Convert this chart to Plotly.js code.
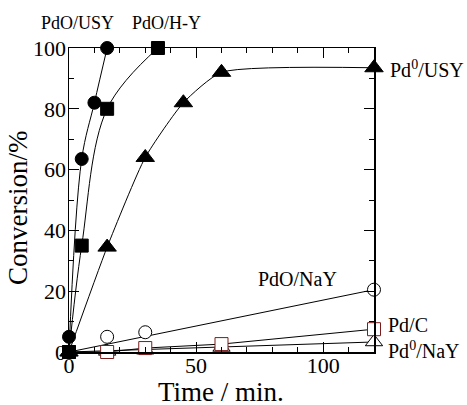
<!DOCTYPE html>
<html>
<head>
<meta charset="utf-8">
<script src="https://cdn.plot.ly/plotly-3.0.1.min.js"></script>
<style>html,body{margin:0;padding:0;background:#fff;}#chart{width:467px;height:405px;}</style>
</head>
<body>
<div id="chart"></div>
<script>
// Data (time in min, conversion in %)
const pdoUSY_x = [0, 5, 10, 15];
const pdoUSY_y = [5, 63.5, 82, 100];
const pdoUSY_curveX = [0, 5, 10, 15];
const pdoUSY_curveY = [0, 63.5, 82, 100];

const pdoHY_x = [0, 5, 15, 35];
const pdoHY_y = [0, 35, 80, 100];

const pd0USY_x = [0, 15, 30, 45, 60, 120];
const pd0USY_y = [0, 34.5, 64, 82, 92, 93.5];

const pdoNaY_x = [0, 15, 30, 120];
const pdoNaY_y = [0, 5, 6.5, 20.5];
const pdoNaY_fitX = [0, 120];
const pdoNaY_fitY = [0, 20.5];

const pdC_x = [0, 15, 30, 60, 120];
const pdC_y = [0, 0, 1.3, 2.6, 7.5];

const pd0NaY_x = [0, 15, 30, 60, 120];
const pd0NaY_y = [0, 0.2, 0.6, 1.5, 3.3];
const pd0NaY_fitX = [0, 120];
const pd0NaY_fitY = [0, 3.3];

const xTicks = [0, 50, 100];
const yTicks = [0, 20, 40, 60, 80, 100];

const xTitle = 'Time / min.';
const yTitle = 'Conversion/%';

const FONT = 'Liberation Serif';
const LW = 1;

function line(x, y, shape, smooth) {
  return {x: x, y: y, mode: 'lines', type: 'scatter', cliponaxis: false,
          line: {color: 'black', width: LW, shape: shape || 'linear', smoothing: smooth === undefined ? 1 : smooth},
          hoverinfo: 'skip', showlegend: false};
}
function pts(x, y, symbol, size, fill, edge) {
  return {x: x, y: y, mode: 'markers', type: 'scatter', cliponaxis: false, showlegend: false,
          marker: {symbol: symbol, size: size, color: fill, line: {color: edge, width: 1}}};
}

const traces = [
  line(pd0NaY_fitX, pd0NaY_fitY),
  line(pdC_x, pdC_y),
  line(pdoNaY_fitX, pdoNaY_fitY),
  pts(pd0NaY_x, pd0NaY_y, 'triangle-up', 15, 'white', 'black'),
  pts(pdC_x, pdC_y, 'square', 13, 'white', '#7a1c1c'),
  pts(pdoNaY_x, pdoNaY_y, 'circle', 13, 'white', 'black'),
  line(pd0USY_x, pd0USY_y, 'spline', 0.55),
  line(pdoHY_x, pdoHY_y, 'spline', 1),
  line(pdoUSY_curveX, pdoUSY_curveY, 'spline', 1),
  pts(pd0USY_x, pd0USY_y, 'triangle-up', 16, 'black', 'black'),
  pts(pdoHY_x, pdoHY_y, 'square', 13, 'black', 'black'),
  pts(pdoUSY_x, pdoUSY_y, 'circle', 13, 'black', 'black')
];

const tickFont = {family: FONT, size: 22, color: 'black'};
function axisBase() {
  return {
    showline: true, linecolor: 'black', linewidth: 1.5,
    ticks: 'inside', ticklen: 10, tickwidth: 1, tickcolor: 'black',
    showgrid: false, zeroline: false, tickfont: tickFont,
    minor: {ticks: 'inside', ticklen: 5, tickwidth: 1, tickcolor: 'black', showgrid: false, dtick: 10, tick0: 0}
  };
}

const layout = {
  width: 467, height: 405,
  margin: {l: 69, r: 93, t: 48, b: 53},
  paper_bgcolor: 'white', plot_bgcolor: 'white',
  font: {family: FONT, color: 'black'},
  xaxis: Object.assign(axisBase(), {
    range: [0, 120], tickmode: 'array', tickvals: xTicks, ticklabelstandoff: -7
  }),
  yaxis: Object.assign(axisBase(), {
    range: [0, 100], tickmode: 'array', tickvals: yTicks, ticklabelstandoff: -3
  }),
  xaxis2: Object.assign(axisBase(), {
    overlaying: 'x', side: 'top', range: [0, 120], tickmode: 'array', tickvals: xTicks,
    showticklabels: false
  }),
  yaxis2: Object.assign(axisBase(), {
    overlaying: 'y', side: 'right', range: [0, 100], tickmode: 'array', tickvals: yTicks,
    showticklabels: false
  }),
  annotations: [
    {x: 0.498, y: -0.132, xref: 'paper', yref: 'paper', text: xTitle, showarrow: false, xanchor: 'center', yanchor: 'middle', font: {family: FONT, size: 27, color: 'black'}},
    {x: -0.167, y: 0.474, xref: 'paper', yref: 'paper', text: yTitle, textangle: -90, showarrow: false, xanchor: 'center', yanchor: 'middle', font: {family: FONT, size: 27, color: 'black'}},
    {x: 0.0295, y: 1.082, xref: 'paper', yref: 'paper', text: 'PdO/USY', showarrow: false, xanchor: 'center', yanchor: 'middle', font: {family: FONT, size: 18, color: 'black'}},
    {x: 0.321, y: 1.082, xref: 'paper', yref: 'paper', text: 'PdO/H-Y', showarrow: false, xanchor: 'center', yanchor: 'middle', font: {family: FONT, size: 18, color: 'black'}},
    {x: 1.046, y: 0.931, xref: 'paper', yref: 'paper', text: 'Pd<sup>0</sup>/USY', showarrow: false, xanchor: 'left', yanchor: 'middle', font: {family: FONT, size: 20, color: 'black'}},
    {x: 0.748, y: 0.240, xref: 'paper', yref: 'paper', text: 'PdO/NaY', showarrow: false, xanchor: 'center', yanchor: 'middle', font: {family: FONT, size: 20, color: 'black'}},
    {x: 1.040, y: 0.089, xref: 'paper', yref: 'paper', text: 'Pd/C', showarrow: false, xanchor: 'left', yanchor: 'middle', font: {family: FONT, size: 20, color: 'black'}},
    {x: 1.040, y: 0.007, xref: 'paper', yref: 'paper', text: 'Pd<sup>0</sup>/NaY', showarrow: false, xanchor: 'left', yanchor: 'middle', font: {family: FONT, size: 20, color: 'black'}}
  ]
};

// dummy trace to activate the mirrored tick axes
traces.push({x: [0], y: [0], xaxis: 'x2', yaxis: 'y2', mode: 'markers', type: 'scatter', marker: {opacity: 0}, hoverinfo: 'skip', showlegend: false});

Plotly.newPlot('chart', traces, layout, {staticPlot: true, displayModeBar: false});
</script>
</body>
</html>
